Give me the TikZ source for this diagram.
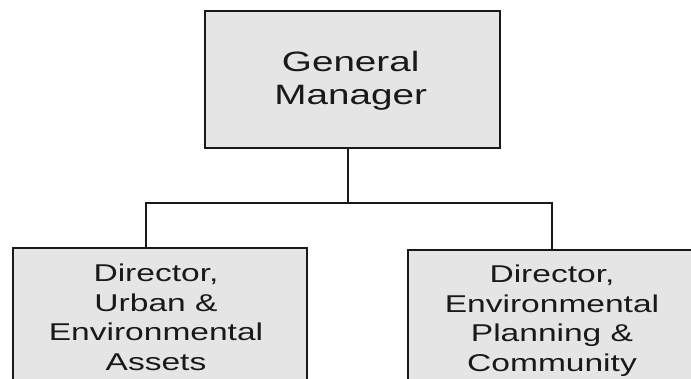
\documentclass[tikz,border=0pt]{standalone}
\usepackage{fontspec}
\setmainfont{Liberation Sans}[FakeStretch=1.38]
\begin{document}
\begin{tikzpicture}[x=1pt,y=-1pt,
  orgbox/.style={draw=black!90,line width=2pt,fill=black!10,inner sep=0,
    minimum width=#1,minimum height=172},
  boxtext/.style={align=center,inner sep=0,anchor=north,text=black!90},
  link/.style={draw=black!90,line width=2pt}]
\useasboundingbox (0,0) rectangle (691,378);
\clip (0,0) rectangle (691,378);
% boxes
\node[orgbox=295,minimum height=137] (gm) at (352.5,79.5) {};
\node[orgbox=294] (ua) at (160,334) {};
\node[orgbox=288] (ep) at (552,336) {};
% labels
\node[boxtext,font=\fontsize{28}{33}\selectfont] (gmt) at (350.7,51.5) {General\\Manager};
\node[boxtext,font=\fontsize{24.3}{29.5}\selectfont] (uat) at (156,264) {Director,\\Urban \&\\Environmental\\Assets};
\node[boxtext,font=\fontsize{24.3}{29.5}\selectfont] (ept) at (552,265) {Director,\\Environmental\\Planning \&\\Community};
% connectors
\coordinate (j) at (348,203);
\coordinate (jl) at (146,203);
\coordinate (jr) at (552,203);
\draw[link] (j |- gm.south) -- (j);
\draw[link] (jl |- ua.north) -- (jl) -- (jr) -- (jr |- ep.north);
\end{tikzpicture}
\end{document}
